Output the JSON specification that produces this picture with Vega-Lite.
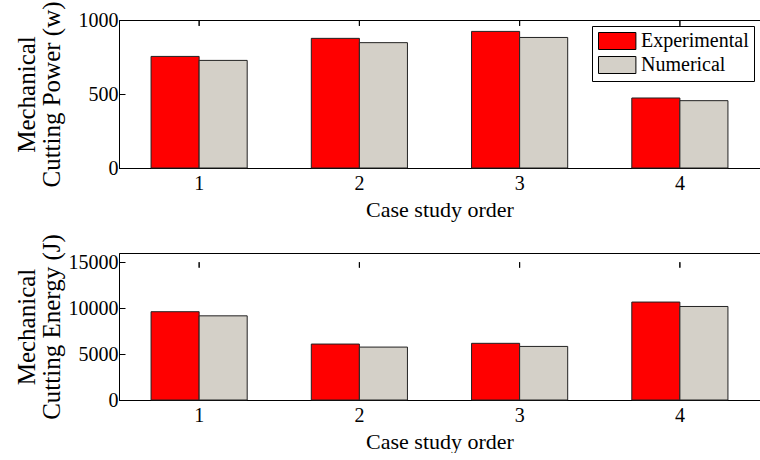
{
  "$schema": "https://vega.github.io/schema/vega-lite/v6.json",
  "background": "white",
  "padding": {"left": 13, "top": 0, "right": 0, "bottom": 0},
  "bounds": "flush",
  "config": {
    "font": "Liberation Serif",
    "view": {"stroke": "black", "strokeWidth": 1},
    "axis": {
      "labelFont": "Liberation Serif", "titleFont": "Liberation Serif",
      "labelFontSize": 20, "titleFontSize": 22, "titleFontWeight": "normal",
      "labelColor": "black", "titleColor": "black",
      "domainColor": "black", "tickColor": "black",
      "grid": false, "tickSize": -6
    },
    "legend": {
      "labelFont": "Liberation Serif", "labelFontSize": 20, "labelColor": "black"
    }
  },
  "data": {
    "values": [
      {"case": "1", "type": "Experimental", "power": 754, "energy": 9610},
      {"case": "1", "type": "Numerical", "power": 727, "energy": 9160},
      {"case": "2", "type": "Experimental", "power": 876, "energy": 6090},
      {"case": "2", "type": "Numerical", "power": 847, "energy": 5760},
      {"case": "3", "type": "Experimental", "power": 923, "energy": 6170},
      {"case": "3", "type": "Numerical", "power": 882, "energy": 5830},
      {"case": "4", "type": "Experimental", "power": 473, "energy": 10660},
      {"case": "4", "type": "Numerical", "power": 455, "energy": 10180}
    ]
  },
  "resolve": {"legend": {"color": "independent"}},
  "spacing": 85,
  "vconcat": [
    {
      "width": 641, "height": 148,
      "layer": [
        {
          "mark": {"type": "bar", "stroke": "#222", "strokeWidth": 1},
          "encoding": {
            "x": {"field": "case", "type": "ordinal", "scale": {"paddingInner": 0.4, "paddingOuter": 0.2},
                  "axis": {"title": "Case study order", "labelAngle": 0, "labelPadding": 11, "titlePadding": 6}},
            "xOffset": {"field": "type", "sort": ["Experimental", "Numerical"], "scale": {"paddingInner": 0, "paddingOuter": 0}},
            "y": {"field": "power", "type": "quantitative", "scale": {"domain": [0, 1000]},
                  "axis": {"values": [0, 500, 1000], "format": "d", "title": ["Mechanical", "Cutting Power (w)"], "titleFontSize": 25, "titleLineHeight": 25, "titleX": -80, "titleY": 74, "labelPadding": 7}},
            "color": {"field": "type", "type": "nominal",
                      "scale": {"domain": ["Experimental", "Numerical"], "range": ["#ff0000", "#d4d0c8"]},
                      "legend": {"title": null, "orient": "none", "legendX": 473, "legendY": 6,
                                 "strokeColor": "black", "fillColor": "white", "padding": 5,
                                 "symbolType": "M-1,-1H3.4V1H-1Z", "symbolSize": 289, "symbolOpacity": 1,
                                 "symbolStrokeColor": "black", "symbolStrokeWidth": 1,
                                 "labelOffset": 24, "rowPadding": 2}}
          }
        },
        {
          "mark": {"type": "rule", "color": "black", "strokeWidth": 1},
          "encoding": {
            "x": {"field": "case", "type": "ordinal"},
            "y": {"datum": 1000},
            "y2": {"datum": 960}
          }
        }
      ]
    },
    {
      "width": 641, "height": 147,
      "layer": [
        {
          "mark": {"type": "bar", "stroke": "#222", "strokeWidth": 1},
          "encoding": {
            "x": {"field": "case", "type": "ordinal", "scale": {"paddingInner": 0.4, "paddingOuter": 0.2},
                  "axis": {"title": "Case study order", "labelAngle": 0, "labelPadding": 11, "titlePadding": 6}},
            "xOffset": {"field": "type", "sort": ["Experimental", "Numerical"], "scale": {"paddingInner": 0, "paddingOuter": 0}},
            "y": {"field": "energy", "type": "quantitative", "scale": {"domain": [0, 15000]},
                  "axis": {"values": [0, 5000, 10000, 15000], "format": "d", "title": ["Mechanical", "Cutting Energy (J)"], "titleFontSize": 25, "titleLineHeight": 25, "titleX": -80, "titleY": 73.5, "labelPadding": 7}},
            "color": {"field": "type", "type": "nominal",
                      "scale": {"domain": ["Experimental", "Numerical"], "range": ["#ff0000", "#d4d0c8"]},
                      "legend": null}
          }
        },
        {
          "mark": {"type": "rule", "color": "black", "strokeWidth": 1},
          "encoding": {
            "x": {"field": "case", "type": "ordinal"},
            "y": {"datum": 15000},
            "y2": {"datum": 14400}
          }
        }
      ]
    }
  ]
}
